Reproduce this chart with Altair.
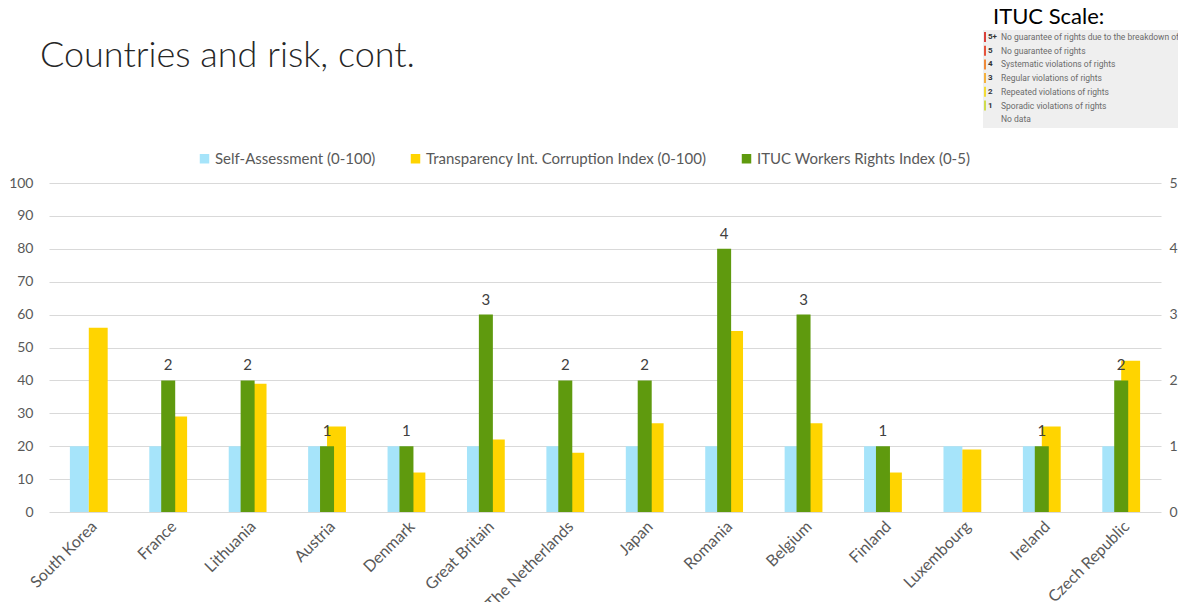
import altair as alt
import pandas as pd

countries = ["South Korea", "France", "Lithuania", "Austria", "Denmark", "Great Britain",
             "The Netherlands", "Japan", "Romania", "Belgium", "Finland", "Luxembourg",
             "Ireland", "Czech Republic"]
self_assessment = [20, 20, 20, 20, 20, 20, 20, 20, 20, 20, 20, 20, 20, 20]
transparency = [56, 29, 39, 26, 12, 22, 18, 27, 55, 27, 12, 19, 26, 46]
ituc = [None, 2, 2, 1, 1, 3, 2, 2, 4, 3, 1, None, 1, 2]

series_names = ["Self-Assessment (0-100)", "Transparency Int. Corruption Index (0-100)",
                "ITUC Workers Rights Index (0-5)"]
series_colors = ["#a6e4fa", "#ffd400", "#5f9a0e"]

title_text = "Countries and risk, cont."
scale_title = "ITUC Scale:"
scale_codes = ["5+", "5", "4", "3", "2", "1", ""]
scale_texts = ["No guarantee of rights due to the breakdown of the law", "No guarantee of rights",
               "Systematic violations of rights", "Regular violations of rights",
               "Repeated violations of rights", "Sporadic violations of rights", "No data"]
scale_colors = ["#d9403a", "#e6533c", "#ef8a3a", "#f4b13f", "#f2dc36", "#cfdc4c", "#efefef"]

FONT = "Lato"
GRAY = "#595959"

long_rows = []
for c, s, t in zip(countries, self_assessment, transparency):
    long_rows.append({"country": c, "series": series_names[0], "value": s})
    long_rows.append({"country": c, "series": series_names[1], "value": t})
long_df = pd.DataFrame(long_rows)

ituc_df = pd.DataFrame({"country": countries, "ituc": ituc})
ituc_df = ituc_df.dropna()
ituc_df["series"] = series_names[2]

x_enc = alt.X("country:N", sort=countries,
              scale=alt.Scale(paddingInner=0.524, paddingOuter=0.263),
              axis=alt.Axis(title=None, labelAngle=-45, labelFontSize=16, labelColor=GRAY,
                            labelFont=FONT, ticks=False, domain=False, labelPadding=6,
                            labelBaseline="top"))

color_enc = alt.Color("series:N",
                      scale=alt.Scale(domain=series_names, range=series_colors),
                      legend=alt.Legend(title=None, orient="none", legendX=148, legendY=-32,
                                        direction="horizontal", symbolType="square",
                                        symbolSize=90, symbolStrokeWidth=0, labelFontSize=15,
                                        labelColor=GRAY, labelFont=FONT, columnPadding=32,
                                        labelOffset=3, labelLimit=400))

primary = alt.Chart(long_df).mark_bar().encode(
    x=x_enc,
    xOffset=alt.XOffset("series:N", sort=series_names[:2],
                        scale=alt.Scale(paddingInner=0, paddingOuter=0)),
    y=alt.Y("value:Q", scale=alt.Scale(domain=[0, 100], nice=False),
            axis=alt.Axis(title=None, values=list(range(0, 101, 10)), labelFontSize=14,
                          labelColor=GRAY, labelFont=FONT, ticks=False, domain=False,
                          labelPadding=16, gridColor="#d9d9d9", gridWidth=1)),
    color=color_enc,
)

green = alt.Chart(ituc_df).mark_bar(size=14).encode(
    x=alt.X("country:N", sort=countries),
    y=alt.Y("ituc:Q", scale=alt.Scale(domain=[0, 5], nice=False),
            axis=alt.Axis(title=None, orient="right", values=[0, 1, 2, 3, 4, 5],
                          labelFontSize=14, labelColor=GRAY, labelFont=FONT, ticks=False,
                          domain=False, grid=False, labelPadding=8)),
    color=alt.Color("series:N"),
)
green_labels = alt.Chart(ituc_df).mark_text(dy=-15, fontSize=15, color="#404040", font=FONT,
                                            baseline="middle").encode(
    x=alt.X("country:N", sort=countries),
    y=alt.Y("ituc:Q"),
    text=alt.Text("ituc:Q", format="d"),
)
secondary = alt.layer(green, green_labels)

title_layer = alt.Chart(pd.DataFrame({"t": [title_text]})).mark_text(
    align="left", baseline="alphabetic", fontSize=36, font=FONT, fontWeight=300,
    color="#262626").encode(x=alt.value(-9), y=alt.value(-116), text="t:N")

box_layer = alt.Chart(pd.DataFrame({"t": [scale_title]})).mark_rect(
    color="#efefef").encode(x=alt.value(934), x2=alt.value(1160),
                            y=alt.value(-153), y2=alt.value(-55))

scale_title_layer = alt.Chart(pd.DataFrame({"t": [scale_title]})).mark_text(
    align="left", baseline="alphabetic", fontSize=22, font=FONT, color="#000000"
).encode(x=alt.value(944), y=alt.value(-159), text="t:N")

scale_df = pd.DataFrame({"code": scale_codes, "label": scale_texts, "col": scale_colors,
                         "row": list(range(len(scale_codes)))})
scale_base = alt.Chart(scale_df).transform_calculate(py="-146 + datum.row * 13.7")
scale_marks = scale_base.mark_rect().encode(
    x=alt.value(935), x2=alt.value(937),
    y=alt.Y("ym:Q", scale=None), y2=alt.Y2("yM:Q"),
    color=alt.Color("col:N", scale=None),
).transform_calculate(ym="datum.py - 5", yM="datum.py + 5")
scale_codes_layer = scale_base.mark_text(align="left", baseline="middle", fontSize=8,
                                         font="Roboto", fontWeight="bold", color="#333333").encode(
    x=alt.value(939), y=alt.Y("py:Q", scale=None), text="code:N")
scale_text_layer = scale_base.mark_text(align="left", baseline="middle", fontSize=8.5,
                                        font="Roboto", color="#6b6b6b").encode(
    x=alt.value(952), y=alt.Y("py:Q", scale=None), text="label:N")

chart = alt.layer(
    primary, secondary, title_layer, box_layer, scale_title_layer,
    scale_marks, scale_codes_layer, scale_text_layer
).resolve_scale(y="independent").properties(
    width=1112, height=329,
    autosize=alt.AutoSizeParams(type="none"),
    padding={"left": 41, "top": 175, "right": 17, "bottom": 90},
).configure_view(stroke=None)

chart.save("out.html", embed_options={"renderer": "svg", "actions": False})
